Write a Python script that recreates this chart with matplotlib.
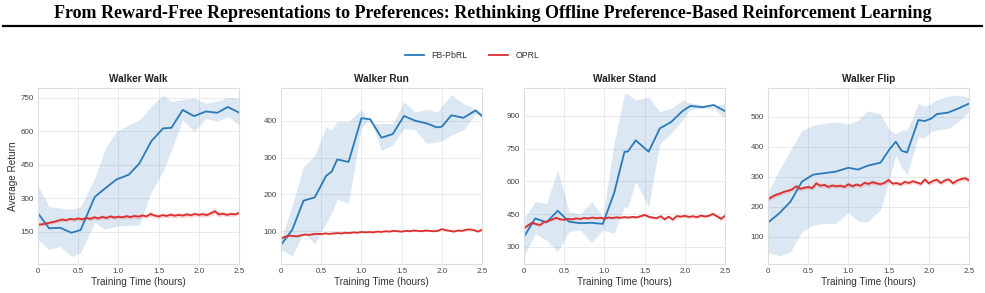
import numpy as np
import matplotlib
matplotlib.use('Agg')
import matplotlib.pyplot as plt
from matplotlib.lines import Line2D

plt.rcParams['font.family'] = ['Liberation Sans', 'DejaVu Sans']

BLUE = '#2a7ab9'
RED = '#dc2f2f'

# ---- FB-PbRL (mean, lower, upper) ----
walk_t = [0, 0.137, 0.278, 0.415, 0.53, 0.705, 0.84, 0.974, 1.13, 1.26, 1.41, 1.555, 1.66, 1.80, 1.94, 2.09, 2.23, 2.36, 2.5]
walk_fb = [232, 165, 167, 145, 157, 305, 345, 383, 405, 455, 555, 612, 615, 695, 667, 688, 682, 708, 683]
walk_lo = [113, 71, 83, 38, 56, 190, 160, 175, 177, 180, 329, 419, 516, 650, 598, 657, 643, 665, 628]
walk_hi = [355, 262, 255, 250, 262, 389, 523, 598, 628, 650, 710, 762, 732, 742, 747, 725, 735, 751, 747]

run_t = [0, 0.14, 0.28, 0.42, 0.56, 0.63, 0.70, 0.84, 1.0, 1.11, 1.25, 1.39, 1.53, 1.67, 1.81, 1.94, 2.0, 2.12, 2.27, 2.42, 2.5]
run_fb = [63, 104, 183, 192, 250, 262, 295, 288, 407, 404, 354, 364, 413, 400, 393, 382, 384, 415, 408, 428, 413]
run_lo = [50, 33, 95, 66, 122, 150, 187, 176, 381, 406, 319, 334, 379, 375, 339, 343, 345, 361, 375, 418, 411]
run_hi = [76, 171, 275, 307, 384, 376, 399, 397, 431, 393, 393, 393, 451, 424, 431, 424, 440, 470, 447, 433, 420]

stand_t = [0, 0.14, 0.28, 0.42, 0.56, 0.70, 0.84, 0.98, 1.12, 1.25, 1.29, 1.39, 1.55, 1.69, 1.83, 1.97, 2.07, 2.22, 2.36, 2.5]
stand_fb = [346, 430, 412, 465, 415, 408, 410, 405, 545, 736, 736, 788, 736, 843, 872, 922, 946, 940, 950, 922]
stand_lo = [257, 361, 330, 277, 369, 377, 318, 377, 361, 484, 480, 598, 484, 774, 820, 882, 930, 935, 935, 889]
stand_hi = [430, 507, 499, 652, 461, 450, 507, 438, 774, 1004, 1000, 973, 986, 920, 935, 973, 960, 950, 943, 958]

flip_t = [0, 0.14, 0.28, 0.42, 0.56, 0.70, 0.84, 1.0, 1.12, 1.24, 1.40, 1.51, 1.59, 1.66, 1.73, 1.87, 1.95, 2.03, 2.10, 2.24, 2.37, 2.5]
flip_fb = [147, 178, 217, 283, 307, 312, 317, 330, 324, 337, 347, 391, 417, 387, 381, 489, 486, 494, 509, 514, 528, 544]
flip_lo = [47, 36, 50, 117, 139, 144, 144, 181, 152, 150, 189, 290, 372, 333, 306, 433, 430, 450, 456, 461, 483, 517]
flip_hi = [250, 322, 389, 453, 472, 478, 483, 476, 489, 520, 509, 456, 444, 456, 456, 544, 536, 544, 556, 569, 572, 564]

# ---- OPRL (mean, std), sampled every 0.05 h ----
oprl_t = np.linspace(0, 2.5, 51)
walk_op = [181, 183, 186, 190, 194, 199, 204, 201, 207, 204, 209, 205, 211, 207, 214, 209, 216, 211, 218, 213,
           217, 214, 219, 215, 220, 217, 222, 218, 229, 222, 218, 224, 220, 226, 221, 225, 222, 227, 223, 229,
           225, 228, 224, 232, 241, 227, 230, 225, 229, 227, 233]
walk_sd = [5, 6, 6, 7, 7, 8, 8, 7, 8, 9, 8, 9, 8, 9, 10, 9, 10, 9, 10, 9, 8, 9, 10, 9, 10, 11, 10, 9, 12, 10,
           9, 10, 9, 11, 10, 9, 10, 11, 10, 9, 10, 11, 10, 12, 14, 11, 10, 9, 10, 9, 8]
run_op = [80, 85, 88, 87, 86, 89, 91, 90, 92, 93, 92, 94, 93, 94, 95, 94, 96, 95, 97, 96, 98, 97, 98, 97, 99,
          98, 100, 99, 101, 100, 99, 101, 100, 102, 101, 100, 102, 101, 100, 101, 106, 103, 101, 99, 102, 101,
          104, 105, 103, 99, 104]
run_sd = [3, 3, 3, 2, 2, 2, 2, 2, 2, 2, 2, 2, 2, 2, 2, 2, 2, 2, 2, 2, 2, 2, 2, 2, 2, 2, 2, 2, 3, 2, 2, 2, 2, 3,
          2, 2, 3, 2, 2, 2, 3, 3, 2, 2, 3, 2, 3, 3, 2, 2, 3]
stand_op = [385, 398, 410, 404, 400, 413, 418, 425, 433, 426, 424, 428, 426, 430, 428, 432, 430, 434, 431, 433,
            429, 434, 432, 435, 433, 436, 434, 437, 435, 440, 446, 438, 434, 431, 440, 426, 438, 424, 441, 438,
            442, 437, 440, 436, 443, 439, 442, 451, 440, 428, 442]
stand_sd = [8, 8, 7, 7, 7, 6, 6, 6, 6, 6, 6, 6, 6, 6, 6, 6, 6, 6, 6, 6, 6, 6, 6, 6, 6, 6, 6, 6, 6, 7, 7, 7, 7,
            7, 7, 8, 7, 8, 7, 7, 7, 7, 7, 7, 7, 7, 7, 8, 8, 9, 8]
flip_op = [225, 233, 240, 244, 250, 253, 258, 268, 260, 263, 266, 262, 278, 270, 273, 266, 271, 268, 270, 266,
           275, 268, 274, 270, 280, 276, 282, 278, 275, 280, 289, 277, 279, 274, 283, 279, 285, 281, 276, 291,
           278, 286, 290, 279, 288, 291, 278, 287, 292, 295, 288]
flip_sd = [8, 8, 7, 7, 7, 7, 7, 8, 7, 7, 7, 7, 8, 7, 7, 7, 7, 7, 7, 7, 8, 7, 7, 7, 8, 7, 8, 7, 7, 7, 8, 7, 7,
           7, 8, 7, 8, 7, 7, 8, 7, 8, 8, 7, 8, 8, 7, 8, 8, 8, 7]

titles = ['Walker Walk', 'Walker Run', 'Walker Stand', 'Walker Flip']
fb = [(walk_t, walk_fb, walk_lo, walk_hi), (run_t, run_fb, run_lo, run_hi),
      (stand_t, stand_fb, stand_lo, stand_hi), (flip_t, flip_fb, flip_lo, flip_hi)]
op = [(walk_op, walk_sd), (run_op, run_sd), (stand_op, stand_sd), (flip_op, flip_sd)]
yticks = [[150, 300, 450, 600, 750], [100, 200, 300, 400], [300, 450, 600, 750, 900], [100, 200, 300, 400, 500]]
ylims = [(5, 793), (11, 489), (221, 1028), (9, 596)]
xticks = [0, 0.5, 1.0, 1.5, 2.0, 2.5]
xticklabels = ['0', '0.5', '1.0', '1.5', '2.0', '2.5']

fig = plt.figure(figsize=(9.85, 2.93), dpi=100)
W, H = 985.0, 293.0

fig.text(0.5, 1 - 14 / H, 'From Reward-Free Representations to Preferences: Rethinking Offline Preference-Based Reinforcement Learning',
         ha='center', va='center', fontsize=13, fontweight='bold', family='Liberation Serif')
fig.add_artist(Line2D([3 / W, 982 / W], [1 - 26 / H, 1 - 26 / H], color='black', linewidth=1.6))

lefts = [38, 281, 524, 768]
for i in range(4):
    ax = fig.add_axes([lefts[i] / W, 29 / H, 201 / W, 176 / H])
    t, m, lo, hi = fb[i]
    ax.fill_between(t, lo, hi, color=BLUE, alpha=0.17, linewidth=0)
    ax.plot(t, m, color=BLUE, linewidth=1.3)
    om, osd = np.array(op[i][0]), np.array(op[i][1])
    ax.fill_between(oprl_t, om - osd, om + osd, color=RED, alpha=0.18, linewidth=0)
    ax.plot(oprl_t, om, color=RED, linewidth=1.3)

    ax.set_xlim(0, 2.5)
    ax.set_ylim(*ylims[i])
    ax.set_xticks(xticks)
    ax.set_xticklabels(xticklabels)
    ax.set_yticks(yticks[i])
    ax.tick_params(length=0, labelsize=5.8, labelcolor='#444444', pad=3)
    ax.grid(True, color='#ebebeb', linewidth=0.7)
    ax.set_axisbelow(True)
    for s in ax.spines.values():
        s.set_color('#dddddd')
        s.set_linewidth(0.8)
    ax.set_title(titles[i], fontsize=7.2, fontweight='bold', color='#222222', pad=4)
    ax.set_xlabel('Training Time (hours)', fontsize=7.2, color='#333333', labelpad=1)
    if i == 0:
        ax.set_ylabel('Average Return', fontsize=7.2, color='#333333', labelpad=2)

handles = [Line2D([], [], color=BLUE, linewidth=1.3), Line2D([], [], color=RED, linewidth=1.3)]
fig.legend(handles, ['FB-PbRL', 'OPRL'], loc='center', bbox_to_anchor=(472 / W, 1 - 56 / H), ncol=2,
           frameon=False, fontsize=6.3, handlelength=2.2, columnspacing=2.5, labelcolor='#333333')

fig.savefig('out.png', dpi=100)
